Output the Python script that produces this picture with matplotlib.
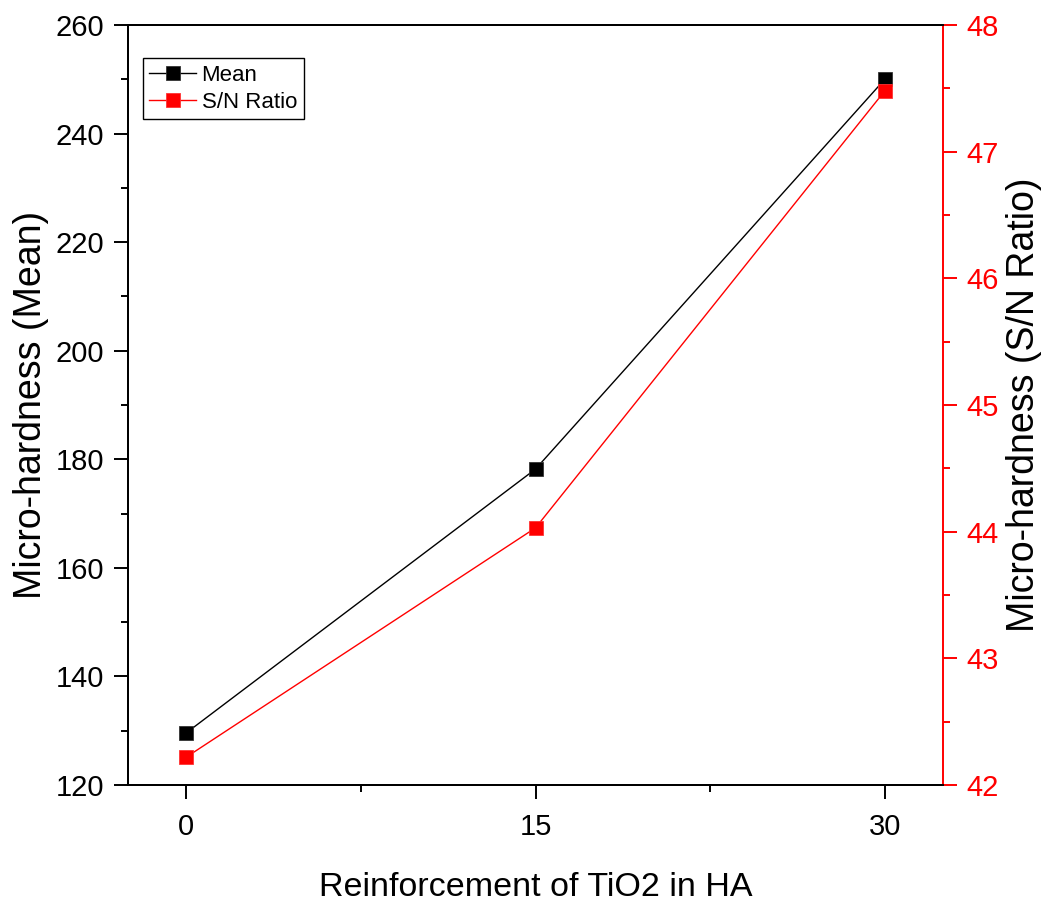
import matplotlib
matplotlib.use("Agg")
import matplotlib.pyplot as plt
from matplotlib.ticker import MultipleLocator

plt.rcParams['font.family'] = ['Liberation Sans', 'DejaVu Sans']

tio2 = [0, 15, 30]
mean_hardness = [129.6, 178.2, 250.0]
sn_ratio = [42.22, 44.03, 47.48]

fig = plt.figure(figsize=(10.47, 9.05), dpi=100)
ax = fig.add_axes([0.1223, 0.1326, 0.7784, 0.8398])
ax2 = ax.twinx()

l1, = ax.plot(tio2, mean_hardness, color='black', lw=1.0, marker='s',
              markersize=10.5, markerfacecolor='black', markeredgecolor='#333333',
              markeredgewidth=0.6, label='Mean')
l2, = ax2.plot(tio2, sn_ratio, color='red', lw=1.0, marker='s',
               markersize=10.5, markerfacecolor='red', markeredgecolor='#ff3333',
               markeredgewidth=0.6, label='S/N Ratio')

ax.set_xlim(-2.5, 32.5)
ax.set_ylim(120, 260)
ax2.set_ylim(42, 48)

ax.set_xticks(tio2)
ax.xaxis.set_minor_locator(MultipleLocator(7.5))
ax.yaxis.set_major_locator(MultipleLocator(20))
ax.yaxis.set_minor_locator(MultipleLocator(10))
ax2.yaxis.set_major_locator(MultipleLocator(1))
ax2.yaxis.set_minor_locator(MultipleLocator(0.5))

ax.tick_params(axis='both', which='major', direction='out', length=10,
               width=1.4, labelsize=21, pad=7)
ax.tick_params(axis='x', which='major', pad=10.5)
ax.tick_params(axis='both', which='minor', direction='out', length=5,
               width=1.4)
ax2.tick_params(axis='y', which='major', direction='out', length=10,
                width=1.4, labelsize=21, pad=7, colors='red')
ax2.tick_params(axis='y', which='minor', direction='out', length=5,
                width=1.4, colors='red')

for s in ax.spines.values():
    s.set_linewidth(1.4)
for s in ax2.spines.values():
    s.set_linewidth(1.4)
ax2.spines['right'].set_color('red')
ax.spines['right'].set_visible(False)

ax.set_xlabel('Reinforcement of TiO2 in HA', fontsize=24.5, labelpad=22)
ax.set_ylabel('Micro-hardness (Mean)', fontsize=27, labelpad=5)
ax2.set_ylabel('Micro-hardness (S/N Ratio)', fontsize=27, labelpad=5)

leg = ax.legend(handles=[l1, l2], loc='upper left', fontsize=16,
                frameon=True, fancybox=False, edgecolor='black',
                framealpha=1, handlelength=2.1, handletextpad=0.25,
                borderpad=0.3, labelspacing=0.25, borderaxespad=0,
                bbox_to_anchor=(0.018, 0.956))
leg.get_frame().set_linewidth(1.0)

fig.savefig('out.png', dpi=100)
